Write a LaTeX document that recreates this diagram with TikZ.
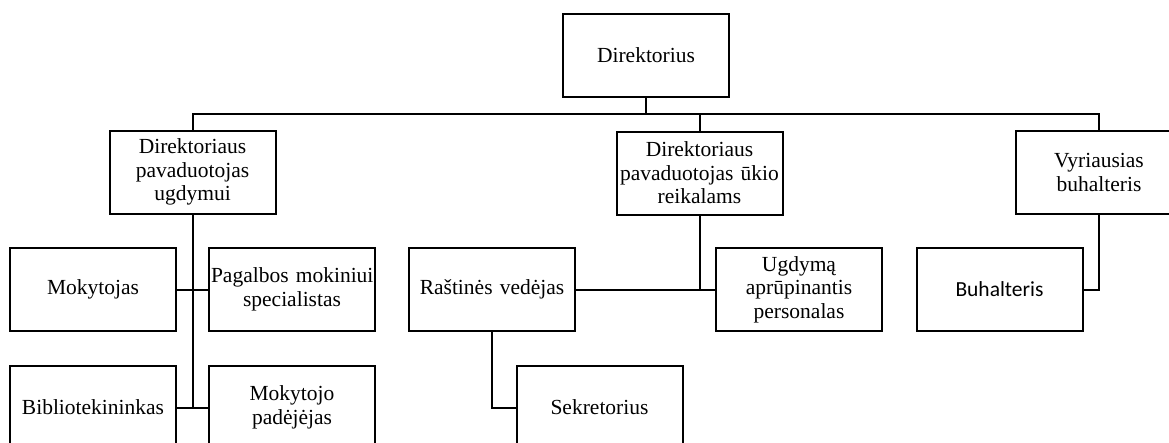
\documentclass[tikz,border=0pt]{standalone}
\usepackage{fontspec}
\setmainfont{Liberation Serif}
\newfontfamily\calib{Carlito}
\begin{document}
\begin{tikzpicture}[x=1pt,y=-1pt,
  box/.style={draw,line width=2pt,minimum width=166pt,minimum height=83pt,text width=162pt,inner xsep=2pt,inner ysep=0pt,align=center,font=\fontsize{21.5}{23.5}\selectfont},
  conn/.style={line width=2pt}]
\useasboundingbox (0,0) rectangle (1169,442);
\clip (0,0) rectangle (1169,442);
\node[box] (dir) at (646,55.5) {Direktorius};
\node[box] (dpu) at (192.5,172) {Direktoriaus\\pavaduotojas\\ugdymui};
\node[box] (dpe) at (699.5,173) {Direktoriaus\\\mbox{pavaduotojas ūkio}\\reikalams};
\node[box] (vb) at (1099,172.5) {Vyriausias\\buhalteris};
\node[box] (mok) at (93,289.5) {Mokytojas};
\node[box] (pag) at (292,289.5) {\mbox{Pagalbos mokiniui}\\specialistas};
\node[box] (bib) at (93,407.5) {Bibliotekininkas};
\node[box] (mpad) at (292,407.5) {Mokytojo\\padėjėjas};
\node[box] (ras) at (492,289.5) {Raštinės vedėjas};
\node[box] (ugd) at (799,289.5) {Ugdymą\\aprūpinantis\\personalas};
\node[box] (sek) at (599.5,407.5) {Sekretorius};
\node[box,font=\calib\fontsize{21.5}{23.5}\selectfont] (buh) at (999.5,289.5) {Buhalteris};
\coordinate (bus) at (646,114);
\draw[conn] (dir.south) -- (bus);
\draw[conn] (dpu.north) |- (bus) -| (vb.north);
\draw[conn] (dpe.north) -- (dpe.north |- bus);
\draw[conn] (dpu.south) -- (dpu.south |- bib.east);
\draw[conn] (mok.east) -- (pag.west);
\draw[conn] (bib.east) -- (mpad.west);
\draw[conn] (dpe.south) -- (dpe.south |- ras.east);
\draw[conn] (ras.east) -- (ugd.west);
\draw[conn] (ras.south) |- (sek.west);
\draw[conn] (vb.south) |- (buh.east);
\end{tikzpicture}
\end{document}
